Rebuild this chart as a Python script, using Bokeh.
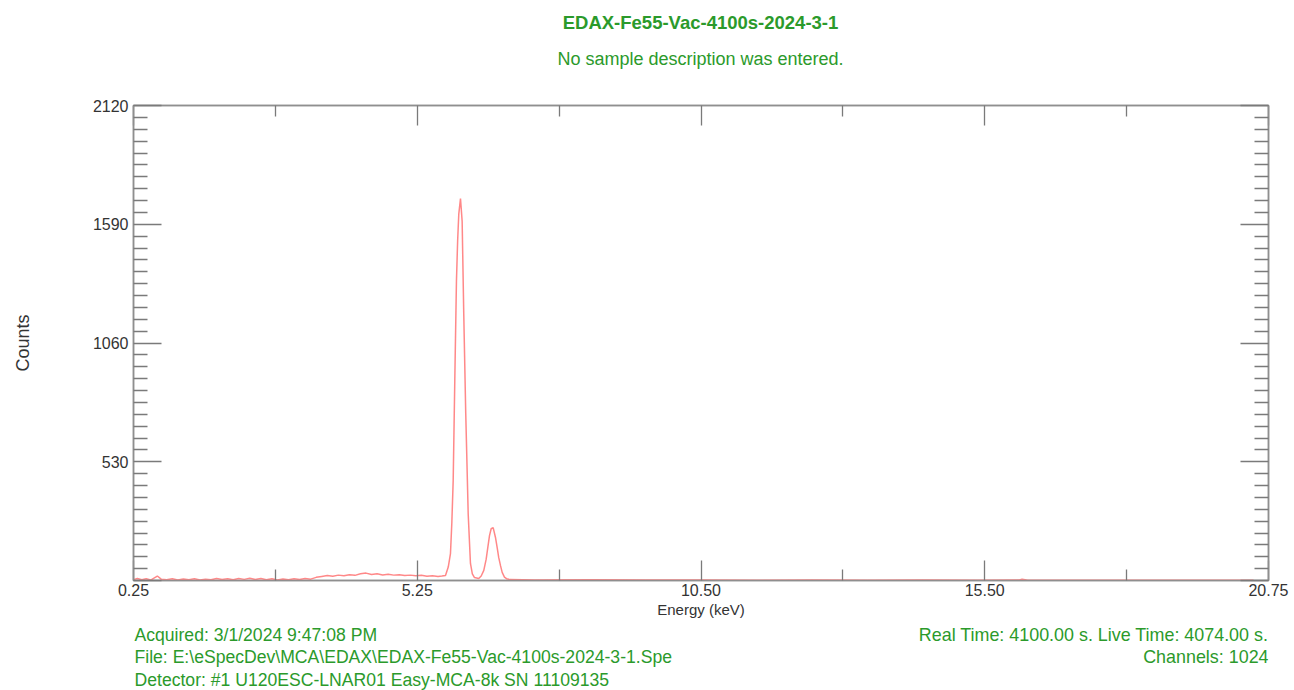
from bokeh.plotting import figure
from bokeh.models import FixedTicker, LinearAxis, Range1d
from bokeh.layouts import column
from bokeh.core.properties import value
from bokeh.embed import file_html
from bokeh.resources import INLINE

# ---------------- data ----------------
energy_kev = [0.25, 0.32, 0.40, 0.48, 0.56, 0.68, 0.75, 0.85, 0.95, 1.05, 1.15, 1.25, 1.35, 1.45,
              1.55, 1.65, 1.75, 1.85, 1.95, 2.05, 2.15, 2.25, 2.35, 2.45, 2.55, 2.65, 2.75, 2.85,
              2.95, 3.05, 3.15, 3.25, 3.35, 3.45, 3.55, 3.65, 3.75, 3.85, 3.95, 4.05, 4.15, 4.25,
              4.35, 4.45, 4.55, 4.65, 4.75, 4.85, 4.95, 5.05, 5.15, 5.25, 5.35, 5.45, 5.55, 5.65,
              5.75, 5.82, 5.885, 5.935, 5.975, 6.00, 6.024, 6.053, 6.083, 6.105, 6.125, 6.156,
              6.186, 6.215, 6.251, 6.295, 6.336, 6.37, 6.409, 6.486, 6.53, 6.577, 6.62, 6.649,
              6.68, 6.71, 6.746, 6.788, 6.82, 6.847, 6.88, 6.909, 6.95, 6.987, 7.05, 7.5, 8.5,
              9.5, 10.5, 11.5, 12.5, 13.5, 14.5, 15.5, 16.25, 16.3, 16.4, 17.5, 18.5, 19.5, 20.48]
counts = [4, 9, 3, 8, 2, 20, 6, 3, 8, 2, 7, 3, 8, 2,
          6, 3, 9, 4, 8, 3, 9, 5, 10, 4, 9, 3, 8, 2,
          7, 3, 8, 4, 9, 6, 14, 18, 22, 19, 24, 21, 26, 23,
          30, 33, 27, 30, 25, 28, 24, 26, 22, 24, 21, 23, 19, 21,
          18, 20, 22, 60, 120, 260, 445, 890, 1336, 1520, 1635, 1705,
          1603, 1190, 744, 298, 76, 30, 13, 9, 20, 45, 95, 147,
          200, 231, 236, 192, 145, 102, 65, 36, 15, 8, 4, 2, 3,
          2, 2, 1, 2, 1, 2, 1, 2, 6, 1, 1, 1, 1, 1]

x_major = [0.25, 5.375, 10.5, 15.625, 20.75]
x_major_labels = ["0.25", "5.25", "10.50", "15.50", "20.75"]
y_major = [0, 530, 1060, 1590, 2120]
y_major_labels = ["", "530", "1060", "1590", "2120"]

title_text = "EDAX-Fe55-Vac-4100s-2024-3-1"
subtitle_text = "No sample description was entered."
footer_left = ["Acquired:  3/1/2024 9:47:08 PM",
               "File:  E:\\eSpecDev\\MCA\\EDAX\\EDAX-Fe55-Vac-4100s-2024-3-1.Spe",
               "Detector:  #1 U120ESC-LNAR01 Easy-MCA-8k SN 11109135"]
footer_right = ["Real Time: 4100.00 s.  Live Time: 4074.00 s.",
                "Channels:  1024"]

# ---------------- styles ----------------
FONT = "Liberation Sans"
GREEN = "#2b9a2b"
AXIS_GRAY = "#8f8f8f"
TEXT_GRAY = "#333333"

W = 1294
HEAD_H = 80
MAIN_H = 545
FOOT_H = 690 - HEAD_H - MAIN_H
FL, FR = 133, 1268
FT, FB = 105 - HEAD_H, 580 - HEAD_H   # frame top/bottom inside main figure


def text_panel(h):
    # frames of a column are aligned with the main plot's frame,
    # so the x range is expressed in page pixels over that span
    f = figure(width=W, height=h, output_backend="svg", toolbar_location=None,
               x_range=Range1d(FL, FR), y_range=Range1d(h, 0),
               x_axis_location=None, y_axis_location=None,
               min_border_left=FL, min_border_right=W - FR,
               min_border_top=0, min_border_bottom=0)
    f.grid.visible = False
    f.outline_line_color = None
    f.background_fill_color = "white"
    f.border_fill_color = "white"
    return f


# ---------------- header ----------------
head = text_panel(HEAD_H)
head.text(x=[700], y=[22], text=[title_text], text_font=value(FONT), text_font_size="18.5px",
          text_font_style="bold", text_color=GREEN, text_align="center", text_baseline="middle")
head.text(x=[700], y=[58], text=[subtitle_text], text_font=value(FONT), text_font_size="18px",
          text_color=GREEN, text_align="center", text_baseline="middle")

# ---------------- main plot ----------------
p = figure(width=W, height=MAIN_H, output_backend="svg", toolbar_location=None,
           x_range=Range1d(x_major[0], x_major[-1]), y_range=Range1d(y_major[0], y_major[-1]),
           x_axis_location=None, y_axis_location=None,
           min_border_left=FL, min_border_right=W - FR, min_border_top=FT,
           min_border_bottom=MAIN_H - FB)
p.grid.visible = False
p.outline_line_color = AXIS_GRAY
p.outline_line_width = 1.5
p.background_fill_color = "white"
p.border_fill_color = "white"

x_minor = [(a + b) / 2 for a, b in zip(x_major[:-1], x_major[1:])]
y_step = (y_major[1] - y_major[0]) / 10
y_minor = [y_major[0] + y_step * i for i in range(1, 40) if i % 10 != 0]

xt = FixedTicker(ticks=x_major, minor_ticks=x_minor)
yt = FixedTicker(ticks=y_major, minor_ticks=y_minor)


def style_axis(ax, major_in, minor_in):
    ax.axis_line_color = AXIS_GRAY
    ax.axis_line_width = 1.5
    ax.major_tick_line_color = "#7a7a7a"
    ax.minor_tick_line_color = "#7a7a7a"
    ax.major_tick_line_width = 1.3
    ax.minor_tick_line_width = 1.3
    ax.major_tick_in = major_in
    ax.major_tick_out = 0
    ax.minor_tick_in = minor_in
    ax.minor_tick_out = 0
    ax.major_label_text_font = FONT
    ax.major_label_text_font_size = "16px"
    ax.major_label_text_color = TEXT_GRAY
    ax.axis_label_text_font = FONT
    ax.axis_label_text_font_style = "normal"
    ax.axis_label_text_color = TEXT_GRAY


bottom = LinearAxis(ticker=xt, axis_label="Energy (keV)")
bottom.major_label_overrides = {v: s for v, s in zip(x_major, x_major_labels)}
style_axis(bottom, 20, 11)
bottom.major_label_standoff = 3
bottom.axis_label_standoff = 2
bottom.axis_label_text_font_size = "15px"
p.add_layout(bottom, "below")

top = LinearAxis(ticker=xt)
top.major_label_overrides = {v: "" for v in x_major}
style_axis(top, 20, 11)
p.add_layout(top, "above")

left = LinearAxis(ticker=yt, axis_label="Counts")
left.major_label_overrides = {v: s for v, s in zip(y_major, y_major_labels)}
style_axis(left, 28, 14)
left.major_label_standoff = 5
left.axis_label_standoff = 57
left.axis_label_text_font_size = "18px"
p.add_layout(left, "left")

right = LinearAxis(ticker=yt)
right.major_label_overrides = {v: "" for v in y_major}
style_axis(right, 28, 14)
p.add_layout(right, "right")

p.line(energy_kev, counts, line_color="#ff7373", line_width=1.5, line_alpha=0.85)

# ---------------- footer ----------------
foot = text_panel(FOOT_H)
foot_y0 = 634 - HEAD_H - MAIN_H
foot.text(x=[134] * len(footer_left), y=[foot_y0 + 22.5 * i for i in range(len(footer_left))],
          text=footer_left, text_font=value(FONT), text_font_size="17.6px",
          text_color=GREEN, text_align="left", text_baseline="middle")
foot.text(x=[1268] * len(footer_right), y=[foot_y0 + 22.5 * i for i in range(len(footer_right))],
          text=footer_right, text_font=value(FONT), text_font_size="17.9px",
          text_color=GREEN, text_align="right", text_baseline="middle",
          x_offset=5)

layout = column(head, p, foot, spacing=0)
open("out.html", "w").write(file_html(layout, INLINE))
